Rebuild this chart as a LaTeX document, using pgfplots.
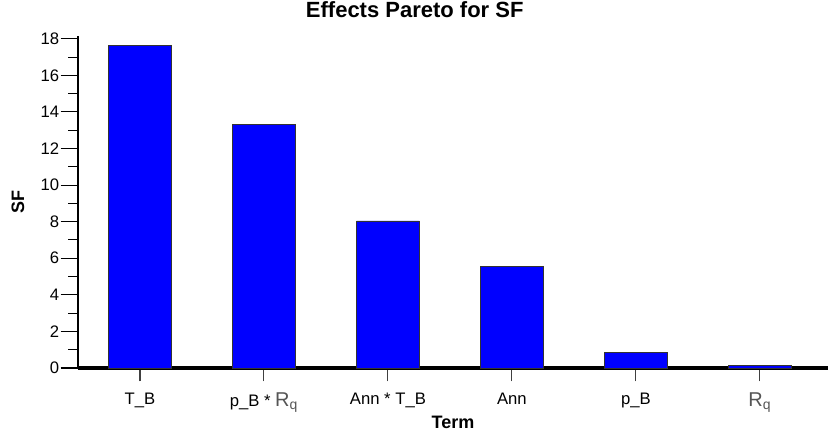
\documentclass[border=0pt]{standalone}
\usepackage{fontspec}
\setmainfont{Liberation Sans}
\usepackage{pgfplots}
\pgfplotsset{compat=1.18}
\definecolor{barblue}{RGB}{0,0,255}
\definecolor{rqgray}{RGB}{85,85,85}
\newcommand{\Rq}{{\color{rqgray}\fontsize{15}{17}\selectfont R\textsubscript{q}}}
\begin{document}
\begin{tikzpicture}
\begin{axis}[
    at={(0,0)}, anchor=south west,
    scale only axis, width=562.5pt, height=249pt,
    ybar, bar width=47pt,
    xmin=-0.5, xmax=5.55, ymin=0, ymax=18.15,
    axis x line=bottom, axis y line=left,
    x axis line style={-, line width=3.2pt},
    y axis line style={-, line width=2.2pt},
    xtick=data,
    xticklabels={T\_B, {p\_B * \Rq}, Ann * T\_B, Ann, p\_B, \Rq},
    ytick={0,2,...,18}, minor y tick num=1,
    tick align=outside,
    major tick length=13pt, minor tick length=7.5pt,
    xtick style={darkgray, line width=0.8pt, /pgfplots/major tick length=10pt},
    ytick style={black, line width=0.8pt},
    /pgf/number format/assume math mode=true,
    tick label style={font=\fontsize{12.5}{14}\selectfont},
    yticklabel style={inner sep=1pt},
    xticklabel style={yshift=-2pt, anchor=north},
    title={Effects Pareto for SF},
    title style={font=\bfseries\fontsize{16.5}{19}\selectfont, at={(axis description cs:0.449,1.054)}, anchor=center},
    xlabel={Term},
    xlabel style={font=\bfseries\fontsize{13.5}{16}\selectfont, at={(axis description cs:0.5,-0.163)}, anchor=center},
    ylabel={SF},
    ylabel style={font=\bfseries\fontsize{13.5}{16}\selectfont, at={(axis description cs:-0.08,0.5)}, anchor=center},
]
\addplot[fill=barblue, draw=black!80, line width=0.6pt] coordinates {
(0,17.63) (1,13.30) (2,8.04) (3,5.53) (4,0.86) (5,0.15)
};
\end{axis}
\pgfresetboundingbox
\path (-58.5pt,-48pt) rectangle (564pt,276pt);
\end{tikzpicture}
\end{document}
